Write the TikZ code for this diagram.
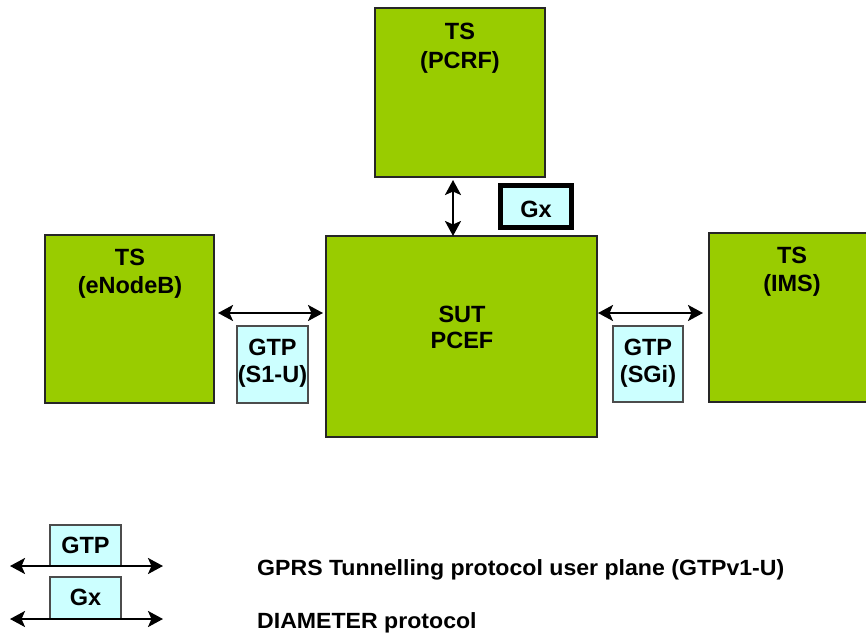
\documentclass[tikz,border=0pt]{standalone}
\usepackage{fontspec}
\setmainfont{Liberation Sans}
\usetikzlibrary{arrows.meta}
\definecolor{boxgreen}{RGB}{153,204,0}
\definecolor{lcyan}{RGB}{204,255,255}
\begin{document}
\begin{tikzpicture}[x=1pt,y=-1pt,
 tsbox/.style={draw=black!85, line width=1.5pt, fill=boxgreen, inner sep=0pt, outer sep=0pt, anchor=north west},
 ifbox/.style={draw=black!70, line width=1.2pt, fill=lcyan, inner sep=0pt, outer sep=0pt, anchor=north west},
 lbl/.style={font=\fontsize{23.5}{28}\selectfont\bfseries, anchor=base, inner sep=0pt},
 leg/.style={font=\fontsize{22}{26}\selectfont\bfseries, anchor=base west, inner sep=0pt},
 tip/.tip={Stealth[length=15pt,width=16pt,inset=3.5pt]},
 link/.style={line width=2.4pt, tip-tip},
]
\useasboundingbox (0,0) rectangle (866,632);

% boxes
\node[tsbox, minimum width=170pt, minimum height=169pt] (pcrf) at (375,8) {};
\node[tsbox, minimum width=169pt, minimum height=168pt] (enb) at (45,235) {};
\node[tsbox, minimum width=271pt, minimum height=201pt] (sut) at (326,236) {};
\node[tsbox, minimum width=170pt, minimum height=169pt] (ims) at (709,233) {};
\node[ifbox, minimum width=71pt, minimum height=77pt] (s1u) at (237,326) {};
\node[ifbox, minimum width=70pt, minimum height=76pt] (sgi) at (613,326) {};
\node[draw=black, line width=5pt, fill=lcyan, inner sep=0pt, outer sep=0pt, anchor=north west,
      minimum width=71pt, minimum height=42pt] (gx) at (500.5,185.5) {};

% labels
\node[lbl] (pcrf1) at (460,39) {TS};
\node[lbl] (pcrf2) at (460,68) {(PCRF)};
\node[lbl] (enb1) at (130,265) {TS};
\node[lbl] (enb2) at (130,293) {(eNodeB)};
\node[lbl] (sut1) at (462,322) {SUT};
\node[lbl] (sut2) at (462,348) {PCEF};
\node[lbl] (ims1) at (792,263) {TS};
\node[lbl] (ims2) at (792,291) {(IMS)};
\node[lbl] (s1u1) at (272.5,355) {GTP};
\node[lbl] (s1u2) at (272.5,382) {(S1-U)};
\node[lbl] (sgi1) at (648,355) {GTP};
\node[lbl] (sgi2) at (648,382) {(SGi)};
\node[lbl] (gx1) at (536,217) {Gx};

% connectors
\draw[link, shorten <=4pt, shorten >=3pt] (enb.east |- 0,313) -- (sut.west |- 0,313);
\draw[link, shorten <=1pt, shorten >=6pt] (sut.east |- 0,313) -- (ims.west |- 0,313);
\draw[link, shorten <=3pt] (pcrf.south -| 453,0) -- (sut.north -| 453,0);

% legend
\node[ifbox, minimum width=71pt, minimum height=41pt] (lgtp) at (50,525) {};
\node[ifbox, minimum width=71pt, minimum height=42pt] (lgx) at (50,577) {};
\node[lbl] (lgtp1) at (85.5,553) {GTP};
\node[lbl] (lgx1) at (85.5,605) {Gx};
\coordinate (la) at (10,566);
\coordinate (lb) at (163,566);
\coordinate (lc) at (10,619);
\coordinate (ld) at (163,619);
\draw[link] (la) -- (lb);
\draw[link] (lc) -- (ld);
\node[leg] (t1) at (257,575) {\scalebox{1.05}[1]{GPRS Tunnelling protocol user plane (GTPv1-U)}};
\node[leg] (t2) at (257,628) {\scalebox{1.05}[1]{DIAMETER protocol}};
\end{tikzpicture}
\end{document}
